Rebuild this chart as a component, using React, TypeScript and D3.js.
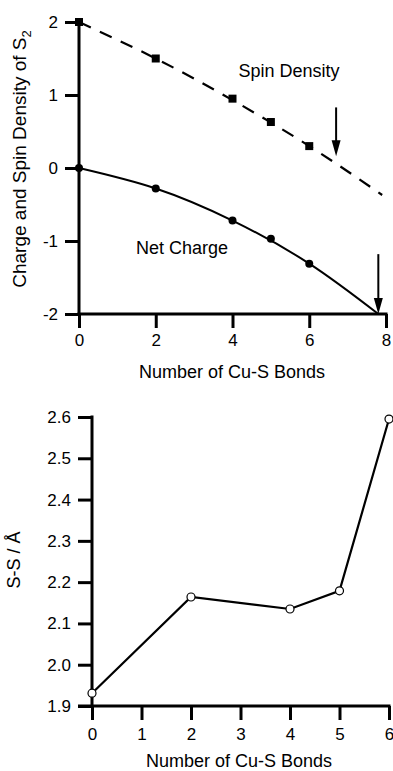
import React, { useEffect, useRef } from "react";
import * as d3 from "d3";

// ---- Top panel data ----
const bondsMeasured = [0, 2, 4, 5, 6];
const spinDensity = [2.0, 1.5, 0.95, 0.63, 0.3];
const netCharge = [0.0, -0.28, -0.72, -0.97, -1.31];
// fitted curves
const spinFitX = [0, 2, 4, 6, 7.9];
const spinFitY = [2.0, 1.5, 0.93, 0.3, -0.37];
const chargeFitX = [0, 2, 4, 6, 7.8];
const chargeFitY = [0.0, -0.28, -0.72, -1.31, -2.0];
// arrows: x, yStart, yEnd
const arrowX = [6.7, 7.8];
const arrowYStart = [0.83, -1.18];
const arrowYEnd = [0.16, -2.0];
const topXTicks = [0, 2, 4, 6, 8];
const topYTicks = [-2, -1, 0, 1, 2];

// ---- Bottom panel data ----
const bondsSS = [0, 2, 4, 5, 6];
const ssDistance = [1.931, 2.164, 2.135, 2.179, 2.595];
const botXTicks = [0, 1, 2, 3, 4, 5, 6];
const botYTicks = [1.9, 2.0, 2.1, 2.2, 2.3, 2.4, 2.5, 2.6];

const FONT = "'Liberation Sans', Arial, Helvetica, sans-serif";

export default function App() {
  const ref = useRef<SVGSVGElement | null>(null);

  useEffect(() => {
    const svg = d3.select(ref.current);
    svg.selectAll("*").remove();

    const styleAxis = (g: any) => {
      g.select(".domain").attr("stroke", "#000").attr("stroke-width", 3);
      g.selectAll(".tick line").attr("stroke", "#000").attr("stroke-width", 3);
      g.selectAll(".tick text")
        .attr("fill", "#000")
        .attr("font-family", FONT)
        .attr("font-size", 17);
    };

    // ================= TOP PANEL =================
    const x1 = d3.scaleLinear().domain([0, 8]).range([79, 386]);
    const y1 = d3.scaleLinear().domain([-2, 2]).range([314, 22]);

    const top = svg.append("g");

    // data lines
    const spinLine = d3
      .line<number>()
      .x((_, i) => x1(spinFitX[i]))
      .y((d) => y1(d))
      .curve(d3.curveNatural);
    top
      .append("path")
      .attr("d", spinLine(spinFitY))
      .attr("fill", "none")
      .attr("stroke", "#000")
      .attr("stroke-width", 2.2)
      .attr("stroke-dasharray", "13,10");

    const chargeLine = d3
      .line<number>()
      .x((_, i) => x1(chargeFitX[i]))
      .y((d) => y1(d))
      .curve(d3.curveNatural);
    top
      .append("path")
      .attr("d", chargeLine(chargeFitY))
      .attr("fill", "none")
      .attr("stroke", "#000")
      .attr("stroke-width", 2);

    // axes
    const yAx1 = top
      .append("g")
      .attr("transform", `translate(${x1(0)},0)`)
      .call(
        d3
          .axisLeft(y1)
          .tickValues(topYTicks)
          .tickSize(14)
          .tickSizeOuter(0)
          .tickPadding(7)
          .tickFormat((d: any) => String(d).replace("−", "-"))
      );
    styleAxis(yAx1);

    const xAx1 = top
      .append("g")
      .attr("transform", `translate(0,${y1(-2)})`)
      .call(
        d3
          .axisBottom(x1)
          .tickValues(topXTicks)
          .tickSize(14)
          .tickSizeOuter(0)
          .tickPadding(6)
          .tickFormat((d: any) => String(d))
      );
    styleAxis(xAx1);
    xAx1.select(".domain").attr("d", `M${x1(0) - 1.5},0H${x1(8) + 1.5}`);
    yAx1.select(".domain").attr("d", `M0,${y1(2)}V${y1(-2) + 1.5}`);

    // markers
    top
      .selectAll("rect.spin")
      .data(spinDensity)
      .join("rect")
      .attr("x", (_, i) => x1(bondsMeasured[i]) - 4)
      .attr("y", (d) => y1(d) - 4)
      .attr("width", 8)
      .attr("height", 8)
      .attr("fill", "#000");
    top
      .selectAll("circle.charge")
      .data(netCharge)
      .join("circle")
      .attr("cx", (_, i) => x1(bondsMeasured[i]))
      .attr("cy", (d) => y1(d))
      .attr("r", 4)
      .attr("fill", "#000");

    // arrows
    arrowX.forEach((ax, i) => {
      const px = x1(ax);
      const ys = y1(arrowYStart[i]);
      const ye = y1(arrowYEnd[i]);
      top
        .append("line")
        .attr("x1", px)
        .attr("x2", px)
        .attr("y1", ys)
        .attr("y2", ye - 10)
        .attr("stroke", "#000")
        .attr("stroke-width", 2);
      top
        .append("path")
        .attr("d", `M${px - 4.5},${ye - 16}L${px + 4.5},${ye - 16}L${px},${ye}Z`)
        .attr("fill", "#000");
    });

    // labels
    top
      .append("text")
      .attr("x", 289)
      .attr("y", 77)
      .attr("text-anchor", "middle")
      .attr("font-family", FONT)
      .attr("font-size", 18)
      .text("Spin Density");
    top
      .append("text")
      .attr("x", 182)
      .attr("y", 254)
      .attr("text-anchor", "middle")
      .attr("font-family", FONT)
      .attr("font-size", 18)
      .text("Net Charge");
    top
      .append("text")
      .attr("x", 232)
      .attr("y", 378)
      .attr("text-anchor", "middle")
      .attr("font-family", FONT)
      .attr("font-size", 18)
      .text("Number of Cu-S Bonds");

    const ylab = top
      .append("text")
      .attr("transform", `translate(26,159) rotate(-90)`)
      .attr("text-anchor", "middle")
      .attr("font-family", FONT)
      .attr("font-size", 19);
    ylab.append("tspan").text("Charge and Spin Density of S");
    ylab.append("tspan").attr("font-size", 13).attr("dy", 5).text("2");

    // ================= BOTTOM PANEL =================
    const x2 = d3.scaleLinear().domain([0, 6]).range([92, 389]);
    const y2 = d3.scaleLinear().domain([1.9, 2.6]).range([706, 417]);
    const bot = svg.append("g");

    const yAx2 = bot
      .append("g")
      .attr("transform", `translate(${x2(0)},0)`)
      .call(
        d3
          .axisLeft(y2)
          .tickValues(botYTicks)
          .tickSize(14)
          .tickSizeOuter(0)
          .tickPadding(7)
          .tickFormat(d3.format(".1f") as any)
      );
    styleAxis(yAx2);
    yAx2.select(".domain").attr("d", `M0,${y2(2.6) - 1.5}V${y2(1.9) + 1.5}`);

    const xAx2 = bot
      .append("g")
      .attr("transform", `translate(0,${y2(1.9)})`)
      .call(
        d3
          .axisBottom(x2)
          .tickValues(botXTicks)
          .tickSize(14)
          .tickSizeOuter(0)
          .tickPadding(8)
          .tickFormat((d: any) => String(d))
      );
    styleAxis(xAx2);
    xAx2.select(".domain").attr("d", `M${x2(0) - 14},0H${x2(6) + 1.5}`);

    const ssLine = d3
      .line<number>()
      .x((_, i) => x2(bondsSS[i]))
      .y((d) => y2(d));
    bot
      .append("path")
      .attr("d", ssLine(ssDistance))
      .attr("fill", "none")
      .attr("stroke", "#000")
      .attr("stroke-width", 2.2);
    bot
      .selectAll("circle.ss")
      .data(ssDistance)
      .join("circle")
      .attr("cx", (_, i) => x2(bondsSS[i]))
      .attr("cy", (d) => y2(d))
      .attr("r", 4)
      .attr("fill", "#fff")
      .attr("stroke", "#000")
      .attr("stroke-width", 1.2);

    bot
      .append("text")
      .attr("x", 239)
      .attr("y", 767)
      .attr("text-anchor", "middle")
      .attr("font-family", FONT)
      .attr("font-size", 18)
      .text("Number of Cu-S Bonds");
    bot
      .append("text")
      .attr("transform", `translate(20,560) rotate(-90)`)
      .attr("text-anchor", "middle")
      .attr("font-family", FONT)
      .attr("font-size", 18)
      .text("S-S / Å");
  }, []);

  return (
    <svg
      ref={ref}
      width={393}
      height={771}
      style={{ position: "absolute", left: 0, top: 0, background: "#fff" }}
    />
  );
}
